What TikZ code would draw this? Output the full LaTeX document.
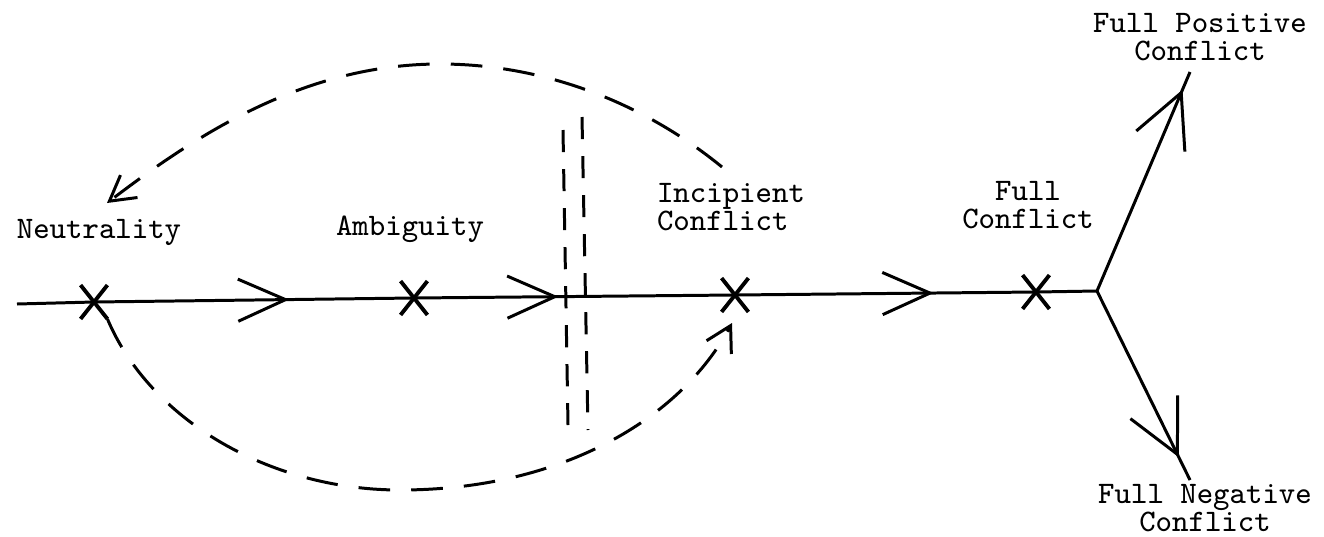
\documentclass[tikz,border=0pt]{standalone}
\usetikzlibrary{arrows.meta, shapes.misc, decorations.markings}

\begin{document}
\begin{tikzpicture}[
    x=0.01cm, y=-0.01cm,
    line width=0.85pt,
    xmark/.style={cross out, draw, line width=1.1pt, minimum width=0.23cm, minimum height=0.3cm, inner sep=0pt},
    lbl/.style={font=\ttfamily\fontsize{8.9}{8}\selectfont, inner sep=0pt},
    flowarrow/.style={postaction={decorate}, decoration={markings, mark=at position #1 with {\arrow{Straight Barb[length=13.5pt,width=12pt]}}}},
    forkarrow/.style={postaction={decorate}, decoration={markings, mark=at position #1 with {\arrow{Straight Barb[length=15pt,width=15pt]}}}},
    dasharc/.style={dash pattern=on 9pt off 6pt, -{Straight Barb[length=7pt,width=8pt]}},
    barrier/.style={dash pattern=on 6.3pt off 4.8pt}
  ]
  \useasboundingbox (0,0) rectangle (1324,536);

  \node[xmark] (neu) at (94,302) {};
  \node[xmark] (amb) at (414,298) {};
  \node[xmark] (inc) at (735,295) {};
  \node[xmark] (full) at (1036,292) {};

  \node[lbl, anchor=base] (neulbl) at (99,238) {Neutrality};
  \node[lbl, anchor=base] (amblbl) at (410,235) {Ambiguity};
  \node[lbl, align=left] (inclbl) at (731,207) {Incipient\\Conflict};
  \node[lbl, align=center] (fulllbl) at (1028,205) {Full\\Conflict};
  \node[lbl, align=center] (poslbl) at (1200,37) {Full Positive\\Conflict};
  \node[lbl, align=center] (neglbl) at (1205,508) {Full Negative\\Conflict};

  \coordinate (start) at (17,304);
  \coordinate (fork) at (1097,291);
  \coordinate (posend) at (1190,72);
  \coordinate (negend) at (1190,480);

  \draw (start) -- (neu.center);
  \draw[flowarrow=0.61] (neu.center) -- (amb.center);
  \draw[flowarrow=0.45] (amb.center) -- (inc.center);
  \draw[flowarrow=0.66] (inc.center) -- (full.center);
  \draw (full.center) -- (fork);
  \draw[forkarrow=0.92] (fork) -- (posend);
  \draw[forkarrow=0.88] (fork) -- (negend);

  % barrier between ambiguity and incipient conflict
  \coordinate (bara) at (563,130);
  \coordinate (barb) at (568,425);
  \coordinate (barc) at (582,117);
  \coordinate (bard) at (588,430);
  \draw[barrier] (bara) -- (barb);
  \draw[barrier] (barc) -- (bard);

  % return and jump paths
  \coordinate (upstart) at (722,167);
  \coordinate (uptop) at (440,64);
  \coordinate (uptip) at (107,203);
  \draw[dasharc] (upstart) .. controls (640,100) and (540,64) .. (uptop)
    .. controls (300,64) and (190,140) .. (uptip);

  \coordinate (lowbot) at (400,490);
  \coordinate (lowtip) at (732,323);
  \draw[dasharc] (neu.south east) .. controls (150,420) and (270,490) .. (lowbot)
    .. controls (560,490) and (680,420) .. (lowtip);
\end{tikzpicture}
\end{document}
